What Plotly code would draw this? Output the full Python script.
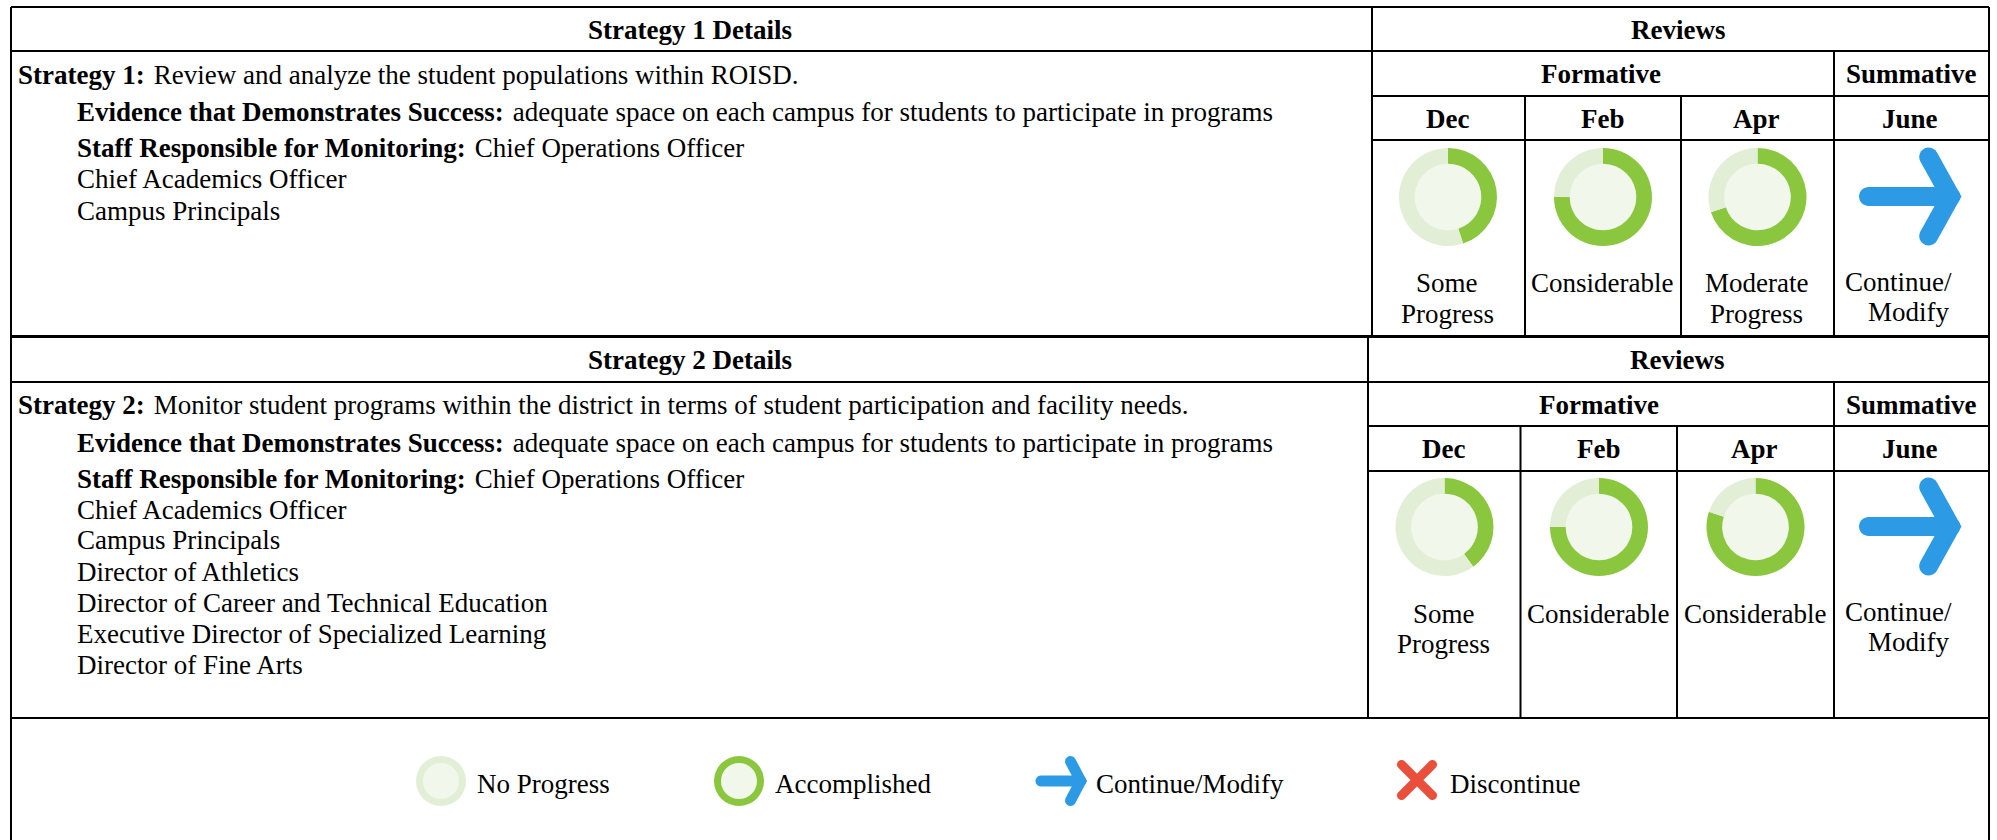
import numpy as np
import plotly.graph_objects as go

W, H = 1997, 840
FONT = "Liberation Serif"
FS = 27
LIGHT, DARK, CORE, BLUE, RED = "#e2efd6", "#8ac73f", "#f1f7ea", "#2d9ae6", "#ea4f3c"
HAIR = "\u200a"

# --- data ---
strategy_headers = ["Strategy 1 Details", "Strategy 2 Details"]
review_months = ["Dec", "Feb", "Apr", "June"]
progress_values = [[45, 75, 70], [40, 75, 80]]
progress_labels = [[["Some", "Progress"], ["Considerable"], ["Moderate", "Progress"]],
                   [["Some", "Progress"], ["Considerable"], ["Considerable"]]]
strategy_lines = [
    [f"<b>Strategy 1:</b>{HAIR} Review and analyze the student populations within ROISD.",
     f"<b>Evidence that Demonstrates Success:</b>{HAIR} adequate space on each campus for students to participate in programs",
     f"<b>Staff Responsible for Monitoring:</b>{HAIR} Chief Operations Officer",
     "Chief Academics Officer", "Campus Principals"],
    [f"<b>Strategy 2:</b>{HAIR} Monitor student programs within the district in terms of student participation and facility needs.",
     f"<b>Evidence that Demonstrates Success:</b>{HAIR} adequate space on each campus for students to participate in programs",
     f"<b>Staff Responsible for Monitoring:</b>{HAIR} Chief Operations Officer",
     "Chief Academics Officer", "Campus Principals", "Director of Athletics",
     "Director of Career and Technical Education",
     "Executive Director of Specialized Learning", "Director of Fine Arts"],
]
legend_labels = ["No Progress", "Accomplished", "Continue/Modify", "Discontinue"]
legend_values = [0, 100]

# --- layout geometry ---
TABLES = [
    dict(top=7, rows=[51, 96, 140], bot=336, cols=[1372, 1525, 1681, 1834], lines=[75, 112, 148, 179, 211],
         cx=[1448, 1603, 1757.5], cy=197, label_y=[283, 314], cont_y=[282, 312], hdx=-2.5),
    dict(top=337, rows=[382, 426, 471], bot=718, cols=[1368, 1520.5, 1677, 1834],
         lines=[405, 443, 479, 510, 540, 572, 603, 634, 665],
         cx=[1444.5, 1599, 1755.5], cy=527, label_y=[613.5, 644], cont_y=[612, 642], hdx=-2),
]
LEFT, RIGHT = 11, 1989

fig = go.Figure()
fig.add_trace(go.Scatter(x=[0, W], y=[0, H], mode="markers", marker=dict(opacity=0), hoverinfo="skip", showlegend=False))
shapes, annos = [], []


def line(x0, y0, x1, y1, w=2):
    shapes.append(dict(type="line", x0=x0, y0=y0, x1=x1, y1=y1, xref="x", yref="y",
                       line=dict(color="#000", width=w), layer="above"))


def text(x, y, s, anchor="center", bold=False):
    annos.append(dict(x=x, y=y, xref="x", yref="y", text=f"<b>{s}</b>" if bold else s, showarrow=False,
                      xanchor=anchor, yanchor="middle", borderpad=0, borderwidth=0,
                      font=dict(family=FONT, size=FS, color="#000"), align=anchor))


def donut(cx, cy, r, vals, hole=0.68):
    fig.add_trace(go.Pie(values=vals, sort=False, direction="clockwise", rotation=0, hole=hole,
                         marker=dict(colors=[DARK, LIGHT], line=dict(width=0)), textinfo="none",
                         hoverinfo="skip", showlegend=False,
                         domain=dict(x=[(cx - r) / W, (cx + r) / W], y=[1 - (cy + r) / H, 1 - (cy - r) / H])))
    ri = r * hole + 0.5
    shapes.append(dict(type="circle", x0=cx - ri, x1=cx + ri, y0=cy - ri, y1=cy + ri, xref="x", yref="y",
                       fillcolor=CORE, line=dict(width=0), layer="below"))


def capsule(p0, p1, w):
    p0, p1 = np.array(p0, float), np.array(p1, float)
    a = np.arctan2(*(p1 - p0)[::-1])
    r = w / 2
    th = np.linspace(-np.pi / 2, np.pi / 2, 12)
    pts = [p1 + r * np.array([np.cos(a + t), np.sin(a + t)]) for t in th]
    pts += [p0 + r * np.array([np.cos(a + np.pi + t), np.sin(a + np.pi + t)]) for t in th]
    return pts


def fill_poly(pts, color):
    d = "M" + " L".join(f"{x:.2f},{y:.2f}" for x, y in pts) + " Z"
    shapes.append(dict(type="path", path=d, xref="x", yref="y", fillcolor=color, line=dict(width=0), layer="above"))


def arrow(x0, x1, cy, hh, w):
    """Arrow spanning x0..x1 and cy-hh..cy+hh, with a pointed tip."""
    r = w / 2
    backx = x1 - (x1 - x0) * 0.32
    by = hh - r
    tipc = x1 - r * 1.15
    fill_poly(capsule((x0 + r, cy), (tipc - 2, cy), w), BLUE)
    d = np.array([tipc - backx, by])
    n = np.array([d[1], -d[0]]) / np.hypot(*d)
    tipc = x1 - r / n[0]
    d = np.array([tipc - backx, by])
    n = np.array([d[1], -d[0]]) / np.hypot(*d)
    tipc = x1 - r / n[0]
    for s in (-1, 1):
        fill_poly(capsule((backx, cy + s * by), (tipc, cy), w), BLUE)
    fill_poly([(tipc + r * n[0], cy - r * n[1] * -1), (x1, cy), (tipc + r * n[0], cy + r * n[1] * -1)], BLUE)


def cross(x0, x1, y0, y1, w):
    r = w / 2
    fill_poly(capsule((x0 + r, y0 + r), (x1 - r, y1 - r), w), RED)
    fill_poly(capsule((x1 - r, y0 + r), (x0 + r, y1 - r), w), RED)


# outer borders
line(LEFT, 7, LEFT, H, 2)
line(RIGHT, 7, RIGHT, H, 2)

for i, t in enumerate(TABLES):
    c = t["cols"]
    line(LEFT, t["top"], RIGHT, t["top"], 2)
    line(LEFT, t["rows"][0], RIGHT, t["rows"][0], 2)
    line(LEFT, t["bot"], RIGHT, t["bot"], 2)
    line(c[0], t["rows"][1], RIGHT, t["rows"][1], 2)
    line(c[0], t["rows"][2], RIGHT, t["rows"][2], 2)
    line(c[0], t["top"], c[0], t["bot"], 2)
    line(c[3], t["rows"][0], c[3], t["bot"], 2)
    line(c[1], t["rows"][1], c[1], t["bot"], 2)
    line(c[2], t["rows"][1], c[2], t["bot"], 2)

    h1 = (t["top"] + t["rows"][0]) / 2 + 0.5
    h2 = (t["rows"][0] + t["rows"][1]) / 2 + 0.5
    h3 = (t["rows"][1] + t["rows"][2]) / 2 + 0.5
    text((LEFT + c[0]) / 2 + (-2 if i == 0 else 0), h1, strategy_headers[i], bold=True)
    text((c[0] + RIGHT) / 2 + t["hdx"], h1, "Reviews", bold=True)
    text((c[0] + c[3]) / 2 + t["hdx"], h2, "Formative", bold=True)
    text((c[3] + RIGHT) / 2, h2, "Summative", bold=True)
    mids = [(c[0] + c[1]) / 2 - 1, (c[1] + c[2]) / 2, (c[2] + c[3]) / 2 - 1, (c[3] + RIGHT) / 2 - 2]
    for m, month in zip(mids, review_months):
        text(m, h3, month, bold=True)

    for j, (ly, s) in enumerate(zip(t["lines"], strategy_lines[i])):
        text(18 if j == 0 else 77, ly, s, anchor="left")

    for cx, v, lab in zip(t["cx"], progress_values[i], progress_labels[i]):
        donut(cx, t["cy"], 49, [v, 100 - v])
        for ly, s in zip(t["label_y"], lab):
            text(cx - 1, ly, s)

    arrow(1859, 1961.5, t["cy"] - 0.5, 49, 19)
    annos_y = t["cont_y"]
    text(1845, annos_y[0], "Continue/", anchor="left")
    text(1950, annos_y[1], "Modify", anchor="right")

# legend
LEG_Y = 781
donut(441, LEG_Y, 25, [legend_values[0], legend_values[1]], hole=0.72)
donut(739, LEG_Y, 25, [legend_values[1], legend_values[0]], hole=0.72)
arrow(1035.5, 1087, LEG_Y, 25, 11)
cross(1397, 1437, 760, 800, 9)
for x, s in zip([476.5, 775, 1096, 1450], legend_labels):
    text(x, 784, s, anchor="left")

fig.update_layout(
    width=W, height=H, margin=dict(l=0, r=0, t=0, b=0), autosize=False,
    paper_bgcolor="#fff", plot_bgcolor="#fff", showlegend=False,
    xaxis=dict(range=[0, W], visible=False, fixedrange=True),
    yaxis=dict(range=[H, 0], visible=False, fixedrange=True),
    shapes=shapes, annotations=annos,
)
fig.write_html("out.html", config=dict(displayModeBar=False),
               post_script="document.body.style.margin='0';document.documentElement.style.overflow='hidden';")
